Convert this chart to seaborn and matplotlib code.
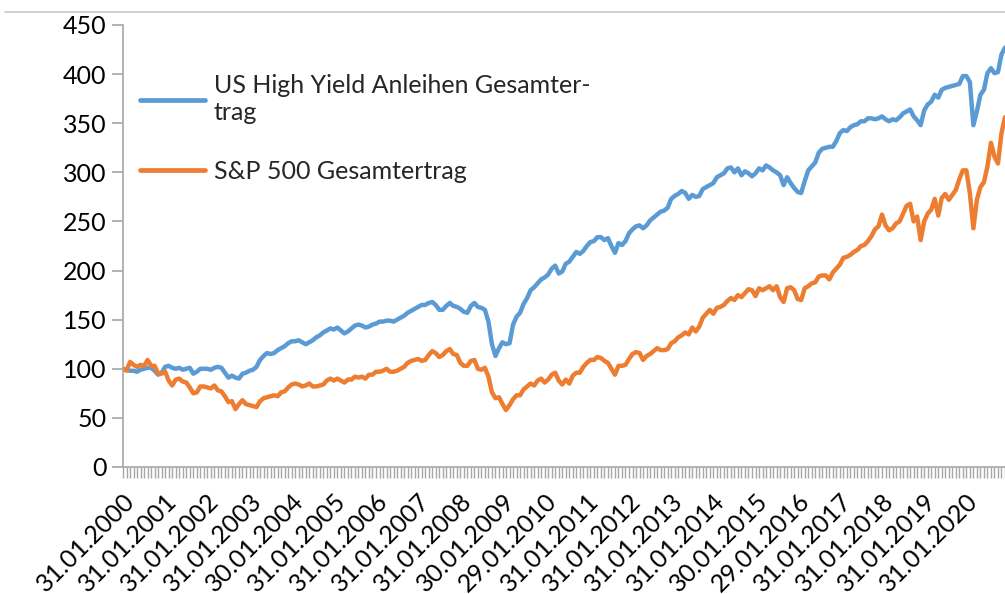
import numpy as np
import pandas as pd
import matplotlib
matplotlib.use("Agg")
import matplotlib.pyplot as plt
from matplotlib.lines import Line2D
import seaborn as sns

# ---- data (monthly, Jan 2000 .. Dec 2020) ----
hy_total_return = [
    # 2000
    100, 99, 98, 98, 97, 99, 100, 101, 101, 98, 94, 96,
    # 2001
    102, 103, 101, 100, 101, 99, 100, 101, 95, 97, 100, 100,
    # 2002
    100, 99, 101, 102, 101, 96, 91, 93, 91, 90, 95, 96,
    # 2003
    98, 99, 102, 109, 113, 116, 115, 116, 119, 121, 123, 126,
    # 2004
    128, 128, 129, 127, 125, 127, 129, 132, 134, 137, 139, 141,
    # 2005
    140, 142, 139, 136, 138, 141, 144, 145, 144, 142, 143, 145,
    # 2006
    146, 148, 148, 149, 149, 148, 150, 152, 154, 157, 159, 161,
    # 2007
    163, 165, 165, 167, 168, 165, 160, 160, 164, 167, 164, 163,
    # 2008
    161, 158, 157, 164, 167, 163, 162, 160, 148, 125, 113, 121,
    # 2009
    127, 125, 126, 145, 153, 157, 166, 172, 180, 183, 187, 191,
    # 2010
    193, 196, 202, 205, 197, 199, 207, 209, 214, 219, 217, 220,
    # 2011
    225, 229, 230, 234, 234, 231, 233, 225, 218, 228, 226, 230,
    # 2012
    238, 242, 245, 246, 243, 246, 251, 254, 257, 260, 261, 264,
    # 2013
    273, 276, 278, 281, 279, 273, 277, 275, 276, 283, 285, 287,
    # 2014
    289, 295, 297, 299, 304, 305, 300, 304, 297, 301, 299, 296,
    # 2015
    299, 304, 302, 307, 305, 302, 300, 297, 287, 295, 289, 284,
    # 2016
    280, 279, 291, 302, 306, 310, 320, 324, 325, 326, 326, 332,
    # 2017
    340, 343, 342, 346, 348, 349, 352, 352, 355, 355, 354, 355,
    # 2018
    357, 354, 352, 354, 353, 356, 360, 362, 364, 357, 353, 348,
    # 2019
    363, 369, 372, 379, 376, 384, 386, 387, 388, 389, 390, 398,
    # 2020
    398, 392, 348, 362, 379, 384, 401, 406, 401, 402, 420, 427,
]

sp500_total_return = [
    # 2000
    100, 98, 107, 104, 102, 104, 103, 109, 103, 103, 95, 95,
    # 2001
    97, 88, 83, 89, 90, 87, 86, 81, 75, 76, 82, 82,
    # 2002
    81, 80, 83, 78, 77, 72, 66, 67, 59, 64, 68, 64,
    # 2003
    63, 62, 61, 67, 70, 71, 72, 73, 72, 76, 77, 81,
    # 2004
    84, 85, 84, 82, 83, 85, 82, 82, 83, 84, 88, 90,
    # 2005
    88, 90, 88, 86, 89, 89, 92, 91, 92, 90, 94, 94,
    # 2006
    97, 97, 98, 100, 97, 97, 98, 100, 102, 106, 108, 109,
    # 2007
    110, 108, 109, 114, 118, 116, 112, 114, 118, 120, 115, 114,
    # 2008
    106, 103, 103, 108, 109, 100, 99, 101, 92, 76, 70, 71,
    # 2009
    64, 58, 63, 69, 73, 73, 79, 82, 85, 83, 88, 90,
    # 2010
    86, 89, 94, 96, 88, 84, 89, 85, 93, 96, 96, 102,
    # 2011
    106, 109, 109, 112, 111, 108, 106, 100, 94, 103, 103, 104,
    # 2012
    110, 115, 117, 116, 109, 113, 115, 118, 121, 119, 119, 120,
    # 2013
    126, 128, 132, 134, 137, 135, 142, 138, 143, 152, 156, 160,
    # 2014
    156, 162, 163, 165, 169, 172, 170, 175, 173, 177, 181, 180,
    # 2015
    174, 182, 180, 182, 184, 180, 184, 173, 168, 182, 183, 180,
    # 2016
    171, 170, 182, 184, 187, 188, 194, 195, 195, 191, 198, 202,
    # 2017
    206, 213, 214, 216, 219, 221, 225, 226, 230, 235, 242, 245,
    # 2018
    257, 246, 241, 243, 248, 250, 258, 266, 268, 250, 255, 231,
    # 2019
    250, 258, 262, 273, 256, 274, 278, 272, 277, 282, 293, 302,
    # 2020
    302, 279, 243, 272, 285, 290, 306, 330, 316, 309, 340, 356,
]

series_names = ["US High Yield Anleihen Gesamter-\ntrag", "S&P 500 Gesamtertrag"]

tick_labels = [
    "31.01.2000", "31.01.2001", "31.01.2002", "31.01.2003", "30.01.2004",
    "31.01.2005", "31.01.2006", "31.01.2007", "31.01.2008", "30.01.2009",
    "29.01.2010", "31.01.2011", "31.01.2012", "31.01.2013", "31.01.2014",
    "30.01.2015", "29.01.2016", "31.01.2017", "31.01.2018", "31.01.2019",
    "31.01.2020",
]

y_ticks = [0, 50, 100, 150, 200, 250, 300, 350, 400, 450]

colors = ["#5B9BD5", "#ED7D31"]

# ---- build ----
n = len(hy_total_return)
month_idx = np.arange(n)
df = pd.DataFrame({
    "Monat": np.concatenate([month_idx, month_idx]),
    "Wert": np.concatenate([hy_total_return, sp500_total_return]),
    "Serie": [series_names[0]] * n + [series_names[1]] * n,
})

sns.set_theme(style="white")
plt.rcParams["font.family"] = ["Lato", "DejaVu Sans"]

W, H = 1005, 594
fig = plt.figure(figsize=(W / 100, H / 100), dpi=100)
ax = fig.add_axes([123 / W, (H - 467) / H, (W - 123) / W, (467 - 25) / H])

sns.lineplot(data=df, x="Monat", y="Wert", hue="Serie", hue_order=series_names,
             palette=colors, linewidth=3.2, ax=ax, legend=False,
             solid_joinstyle="round", solid_capstyle="round")

ax.set_xlim(0, n - 1)
ax.set_ylim(0, 450)
ax.set_xlabel("")
ax.set_ylabel("")

grey = "#a6a6a6"
for s in ["top", "right"]:
    ax.spines[s].set_visible(False)
for s in ["left", "bottom"]:
    ax.spines[s].set_color(grey)
    ax.spines[s].set_linewidth(1.2)

ax.set_yticks(y_ticks)
ax.set_yticklabels([str(v) for v in y_ticks], fontsize=18, color="black")
ax.tick_params(axis="y", which="major", direction="out", length=8, width=1.2,
               color=grey, pad=4, left=True)

major_pos = month_idx[::12]
ax.set_xticks(major_pos)
ax.set_xticks(month_idx, minor=True)
ax.set_xticklabels(tick_labels, fontsize=18, rotation=45, ha="right",
                   rotation_mode="anchor", color="black")
ax.tick_params(axis="x", which="both", direction="out", length=8, width=1.0,
               color=grey, bottom=True, pad=8)
ax.tick_params(axis="x", which="minor", length=8, width=1.0)

handles = [Line2D([], [], color=c, lw=3.4) for c in colors]
leg = ax.legend(handles, series_names, loc="upper left",
                bbox_to_anchor=(140 / W, (H - 74) / H), bbox_transform=fig.transFigure,
                frameon=False, fontsize=18, handlelength=2.6, handletextpad=0.35,
                labelspacing=1.45, borderpad=0, borderaxespad=0)

fig.add_artist(Line2D([5 / W, 1.0], [1 - 12 / H, 1 - 12 / H], transform=fig.transFigure,
                      color="#c8c8c8", lw=1.2))

fig.savefig("out.png", dpi=100)
